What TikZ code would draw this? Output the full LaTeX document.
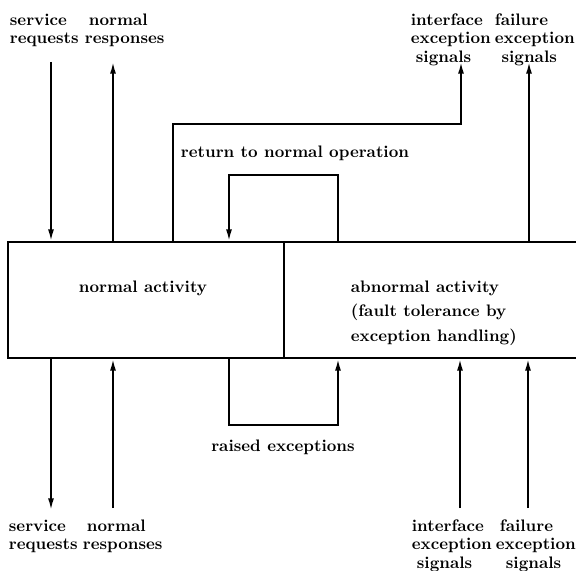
\documentclass[tikz,border=0pt]{standalone}
\usepackage{tikz}
\usetikzlibrary{arrows.meta}

\begin{document}
\begin{tikzpicture}[x=0.6pt, y=-0.6pt, line width=1.1pt,
    >={Latex[length=7pt,width=3.6pt]},
    box/.style={draw, rectangle, inner sep=0pt, minimum height=69.6pt},
    lbl/.style={font=\bfseries\fontsize{10}{11}\selectfont, inner sep=0pt, align=left}]
         \useasboundingbox (0,0) rectangle (576,571);
         \node [box, minimum width=165.6pt] (NA) at (146,300) {};
         \node [box, minimum width=177.6pt] (AA) at (432,300) {};
         \node [lbl] (NAT) at (143,288) {normal activity};
         \node [lbl, anchor=west, font=\bfseries\fontsize{10}{14.7}\selectfont] (AAT) at (350,313) {abnormal activity\\(fault tolerance by\\exception handling)};
         \node [lbl, anchor=north west] (SRT) at (9,13) {service\\requests};
         \node [lbl, anchor=north west] (NRT) at (84,13) {\hspace*{2.4pt}normal\\responses};
         \node [lbl, anchor=north west] (IET) at (410,13) {interface\\exception\\\hspace*{3pt}signals};
         \node [lbl, anchor=north west] (FET) at (494,13) {failure\\exception\\\hspace*{4pt}signals};
         \node [lbl] (RET) at (295,153) {return to normal operation};
         \node [lbl] (RAI) at (283,447) {raised exceptions};
         \node [lbl, anchor=north west] (SRB) at (8,519) {service\\requests};
         \node [lbl, anchor=north west] (NRB) at (82,519) {\hspace*{2.4pt}normal\\responses};
         \node [lbl, anchor=north west] (IEB) at (411,519) {interface\\exception\\\hspace*{3pt}signals};
         \node [lbl, anchor=north west] (FEB) at (495,519) {\hspace*{2.4pt}failure\\exception\\\hspace*{6pt}signals};
         \coordinate (sr1) at (51,62);
         \coordinate (nr1) at (113,62);
         \coordinate (ie0) at (173,124);
         \coordinate (ie1) at (461,62);
         \coordinate (fe1) at (529,62);
         \coordinate (rt1) at (338,175);
         \coordinate (rt2) at (229,175);
         \coordinate (sr2) at (51,510);
         \coordinate (nr2) at (113,508);
         \coordinate (rx1) at (229,425);
         \coordinate (rx2) at (338,425);
         \coordinate (ie2) at (460,508);
         \coordinate (fe2) at (528,508);
         \draw [->] (sr1) -- (sr1 |- NA.north);
         \draw [->] (nr1 |- NA.north) -- (nr1);
         \draw [->] (ie0 |- NA.north) -- (ie0) -| (ie1);
         \draw [->] (fe1 |- AA.north) -- (fe1);
         \draw [->] (rt1 |- AA.north) -- (rt1) -- (rt2) -- (rt2 |- NA.north);
         \draw [->] (sr2 |- NA.south) -- (sr2);
         \draw [->] (nr2) -- (nr2 |- NA.south);
         \draw [->] (rx1 |- NA.south) -- (rx1) -- (rx2) -- (rx2 |- AA.south);
         \draw [->] (ie2) -- (ie2 |- AA.south);
         \draw [->] (fe2) -- (fe2 |- AA.south);
\end{tikzpicture}
\end{document}
